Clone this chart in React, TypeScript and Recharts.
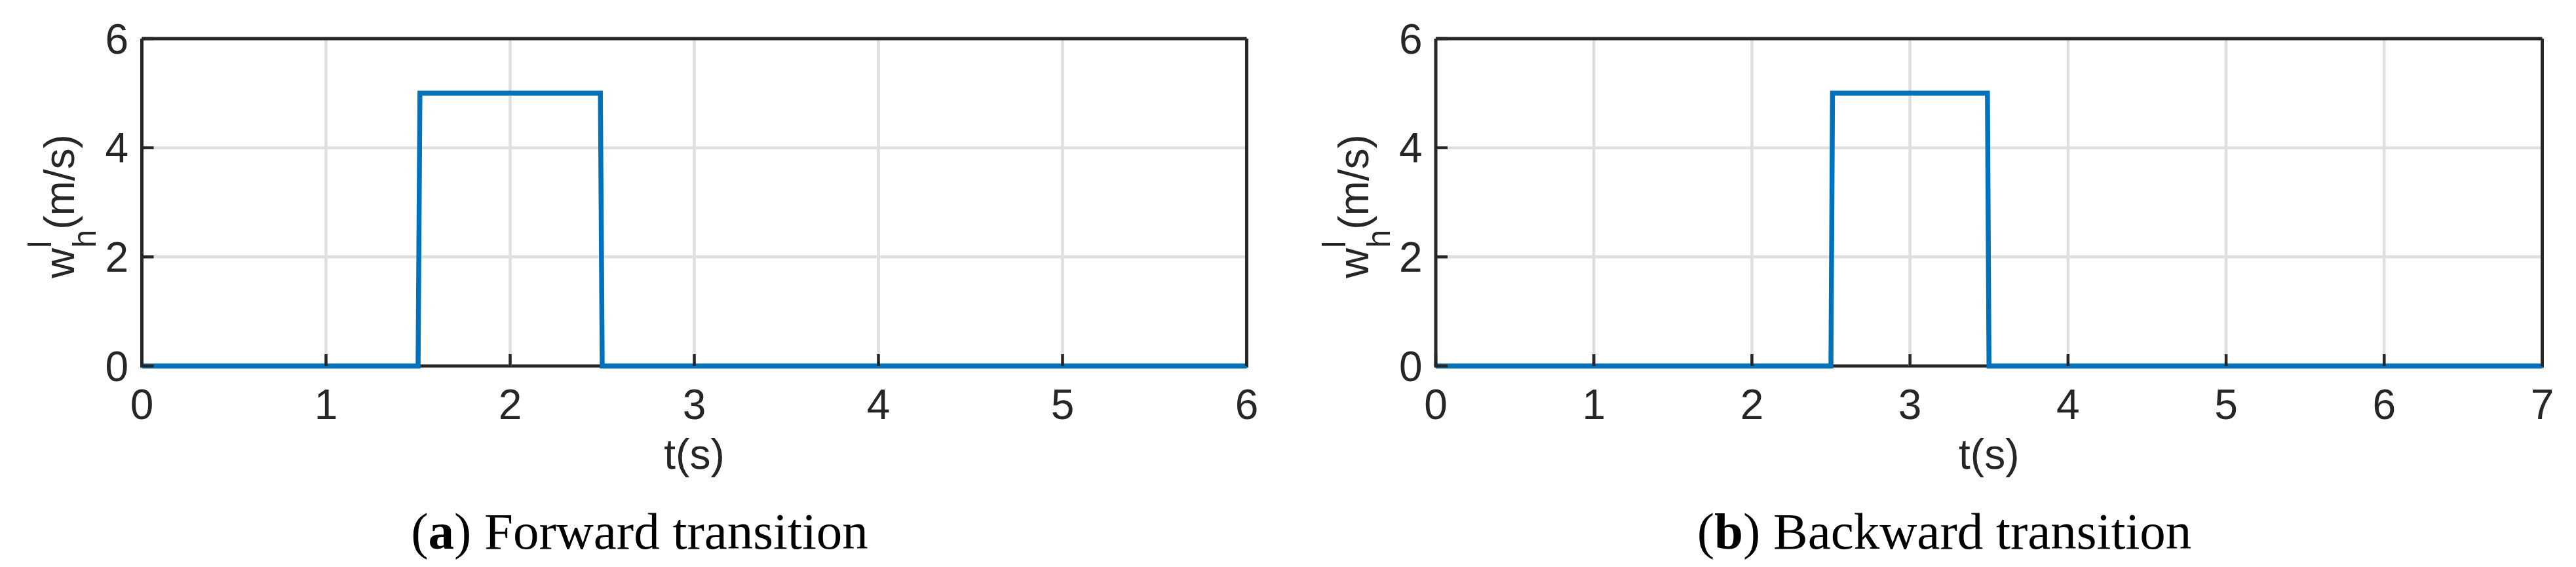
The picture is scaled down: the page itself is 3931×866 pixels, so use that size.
import React from "react";
import { CartesianGrid, Line, LineChart, XAxis, YAxis } from "recharts";

// forward transition
const forwardTime = [0, 1.5, 1.51, 2.49, 2.5, 6];
const forwardSpeed = [0, 0, 5, 5, 0, 0];
const forwardTicks = [0, 1, 2, 3, 4, 5, 6];

// backward transition
const backwardTime = [0, 2.5, 2.51, 3.49, 3.5, 7];
const backwardSpeed = [0, 0, 5, 5, 0, 0];
const backwardTicks = [0, 1, 2, 3, 4, 5, 6, 7];

const speedTicks = [0, 2, 4, 6];

const AXIS = "#262626";
const BLUE = "#0072BD";
const GRID = "#dfdfdf";
const SANS = "'Liberation Sans', Arial, Helvetica, sans-serif";
const SERIF = "'Liberation Serif', 'Times New Roman', serif";
const H = 866;
const PLOT_BOTTOM = 559;

const tickStyle = { fill: AXIS, fontSize: 64, fontFamily: SANS };
const lineStyle = { stroke: AXIS, strokeWidth: 5 };
const tickLineStyle = { stroke: AXIS, strokeWidth: 4.5 };

// horizontal grid lines; the one at y = 0 doubles as the bottom box edge,
// drawn here so the data line stays on top of it
const hGrid = (p: any) => {
	const isBottom = Math.abs(p.y1 - PLOT_BOTTOM) < 2;
	return (
		<line
			key={p.key ?? `h-${p.index}`}
			x1={p.x1}
			x2={p.x2}
			y1={p.y1}
			y2={p.y2}
			stroke={isBottom ? AXIS : GRID}
			strokeWidth={isBottom ? 5 : 4.5}
			strokeLinecap={isBottom ? "square" : "butt"}
		/>
	);
};

const YLabel = (props: any) => {
	const vb = props.viewBox || { x: 0, y: 0, width: 0, height: 0 };
	const x = vb.x + vb.width - 103.5;
	const y = vb.y + vb.height / 2 + 6;
	return (
		<text x={x} y={y} transform={`rotate(-90 ${x} ${y})`} textAnchor="middle" fill={AXIS} fontFamily={SANS} fontSize={64}>
			<tspan>w</tspan>
			<tspan fontSize={50} dy={-35}>l</tspan>
			<tspan fontSize={50} dx={-11} dy={68}>h</tspan>
			<tspan dy={-33}>(m/s)</tspan>
		</text>
	);
};

const XLabel = (props: any) => {
	const vb = props.viewBox || { x: 0, y: 0, width: 0, height: 0 };
	return (
		<text x={vb.x + vb.width / 2} y={vb.y + 157} textAnchor="middle" fill={AXIS} fontFamily={SANS} fontSize={64}>
			t(s)
		</text>
	);
};

type PanelProps = {
	time: number[];
	speed: number[];
	xTicks: number[];
	left: number;
	width: number;
	margin: { top: number; right: number; bottom: number; left: number };
	letter: string;
	title: string;
	captionX: number;
};

const Panel: React.FC<PanelProps> = ({ time, speed, xTicks, left, width, margin, letter, title, captionX }) => {
	const data = time.map((t, i) => ({ t, v: speed[i] }));
	const xMax = xTicks[xTicks.length - 1];
	return (
		<div style={{ position: "absolute", left, top: 0, width, height: H }}>
			<LineChart width={width} height={H} data={data} margin={margin}>
				<CartesianGrid stroke={GRID} strokeWidth={4.5} horizontal={hGrid} />
				<XAxis
					type="number"
					dataKey="t"
					domain={[0, xMax]}
					ticks={xTicks}
					height={1}
					axisLine={false}
					tickLine={tickLineStyle}
					tickSize={-18}
					tickMargin={54}
					tick={tickStyle}
					interval={0}
					label={{ content: XLabel }}
				/>
				<XAxis
					xAxisId="top"
					orientation="top"
					type="number"
					dataKey="t"
					domain={[0, xMax]}
					ticks={xTicks}
					height={1}
					axisLine={lineStyle}
					tickLine={tickLineStyle}
					tickSize={-18}
					tick={false}
				/>
				<YAxis
					type="number"
					domain={[0, 6]}
					ticks={speedTicks}
					width={1}
					axisLine={lineStyle}
					tickLine={tickLineStyle}
					tickSize={-18}
					tickMargin={38.5}
					tick={tickStyle}
					interval={0}
					label={{ content: YLabel }}
				/>
				<YAxis
					yAxisId="right"
					orientation="right"
					type="number"
					domain={[0, 6]}
					ticks={speedTicks}
					width={1}
					axisLine={lineStyle}
					tickLine={tickLineStyle}
					tickSize={-18}
					tick={false}
				/>
				<Line type="linear" dataKey="v" stroke={BLUE} strokeWidth={7.5} dot={false} isAnimationActive={false} />
			</LineChart>
			<svg width={width} height={H} style={{ position: "absolute", left: 0, top: 0, pointerEvents: "none" }}>
				<text x={captionX} y={838} textAnchor="middle" fontFamily={SERIF} fontSize={79} fill="#000">
					(<tspan fontWeight="bold">{letter}</tspan>) {title}
				</text>
			</svg>
		</div>
	);
};

export default function App() {
	return (
		<div style={{ position: "absolute", left: 0, top: 0, width: 3931, height: H, background: "#fff" }}>
			<Panel
				time={forwardTime}
				speed={forwardSpeed}
				xTicks={forwardTicks}
				left={0}
				width={1966}
				margin={{ top: 58, right: 62.5, bottom: H - PLOT_BOTTOM - 1, left: 215.5 }}
				letter="a"
				title="Forward transition"
				captionX={976}
			/>
			<Panel
				time={backwardTime}
				speed={backwardSpeed}
				xTicks={backwardTicks}
				left={1966}
				width={1965}
				margin={{ top: 58, right: 50.5, bottom: H - PLOT_BOTTOM - 1, left: 224 }}
				letter="b"
				title="Backward transition"
				captionX={2967 - 1966}
			/>
		</div>
	);
}
